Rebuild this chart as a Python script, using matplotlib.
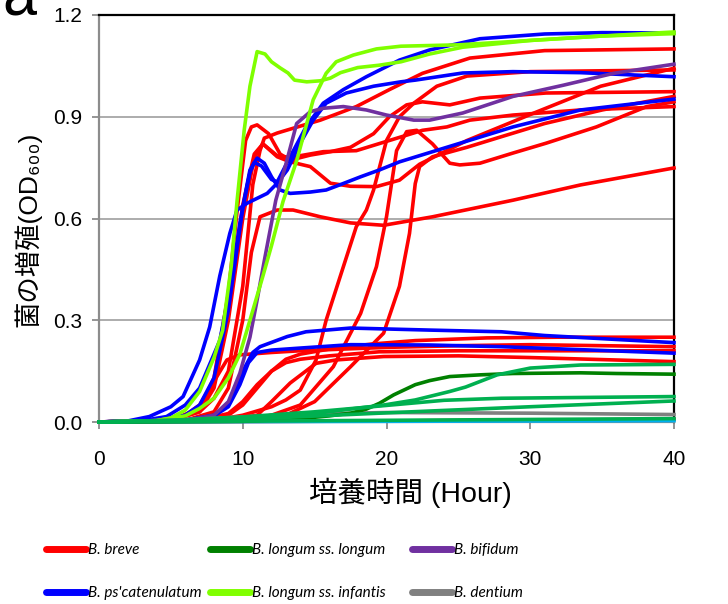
import matplotlib
matplotlib.use('Agg')
import matplotlib.pyplot as plt
from matplotlib.lines import Line2D

# growth curves, (hour, OD600)
infantis_fast = [(0, 0), (4, 0.004), (5, 0.012), (6, 0.035), (7, 0.09), (8, 0.19), (8.6, 0.27), (9.2, 0.46),
                 (9.6, 0.65), (10.1, 0.86), (10.5, 0.99), (11, 1.092), (11.55, 1.085), (12, 1.062), (12.6, 1.044),
                 (13.15, 1.029), (13.6, 1.008), (14.45, 1.003), (15.4, 1.006), (16.1, 1.014), (16.8, 1.03),
                 (18, 1.045), (19.5, 1.052), (21, 1.062), (23, 1.085), (25.3, 1.105), (30, 1.125), (35, 1.138),
                 (40, 1.145)]
infantis_slow = [(0, 0), (4, 0.004), (6, 0.018), (7, 0.04), (8, 0.07), (9, 0.13), (9.8, 0.2), (10.5, 0.3),
                 (11.4, 0.43), (12, 0.52), (12.8, 0.65), (13.75, 0.77), (14.9, 0.95), (15.8, 1.028), (16.5, 1.062),
                 (17.7, 1.082), (19.3, 1.10), (21, 1.108), (25, 1.112), (30, 1.125), (35, 1.138), (40, 1.15)]

pscat_a = [(0, 0), (2, 0.003), (3.5, 0.016), (5, 0.045), (5.85, 0.075), (7, 0.183), (7.7, 0.28), (8.4, 0.43),
           (9.1, 0.556), (9.6, 0.625), (10.3, 0.645), (11.7, 0.674), (12.4, 0.704), (13.1, 0.743), (14, 0.822),
           (14.9, 0.89), (15.8, 0.94), (17.2, 0.97), (19.1, 0.99), (21, 1.003), (22, 1.008), (25.3, 1.029),
           (28.8, 1.033), (33.5, 1.03), (40, 1.018)]
pscat_b = [(0, 0), (3, 0.004), (4.7, 0.016), (6, 0.05), (7, 0.1), (8.4, 0.24), (9.1, 0.39), (9.8, 0.586),
           (10.3, 0.7), (10.5, 0.743), (11, 0.778), (11.5, 0.763), (12, 0.723), (12.6, 0.684), (13.3, 0.674),
           (14.7, 0.678), (15.8, 0.684), (16.8, 0.70), (18.2, 0.723), (19.5, 0.743), (20.9, 0.767), (24.2, 0.81),
           (28.8, 0.87), (33.5, 0.92), (40, 0.952)]
pscat_c = [(0, 0), (4, 0.005), (6, 0.02), (7, 0.05), (8, 0.13), (9, 0.33), (9.5, 0.48), (10, 0.63), (10.5, 0.735),
           (10.8, 0.765), (11.3, 0.755), (12, 0.715), (12.4, 0.708), (13.3, 0.782), (14.4, 0.87), (15.6, 0.94),
           (17, 0.98), (18.6, 1.018), (20.9, 1.067), (23, 1.097), (26.5, 1.13), (31, 1.144), (35, 1.148),
           (40, 1.147)]
pscat_low1 = [(0, 0), (6, 0.005), (8, 0.02), (9, 0.05), (9.5, 0.09), (10, 0.15), (10.7, 0.205), (11.2, 0.222),
              (13.1, 0.252), (14.4, 0.266), (17.5, 0.277), (23, 0.271), (28, 0.266), (31, 0.255), (40, 0.234)]
pscat_low2 = [(0, 0), (6, 0.005), (8, 0.018), (9, 0.045), (9.8, 0.11), (10.4, 0.175), (11, 0.205), (12, 0.212),
              (14, 0.218), (17.5, 0.228), (23, 0.227), (28, 0.222), (40, 0.203)]

bifidum = [(0, 0), (6, 0.005), (8, 0.02), (9, 0.06), (9.8, 0.144), (10.5, 0.25), (11, 0.36), (11.55, 0.487),
           (12.3, 0.654), (13, 0.76), (13.75, 0.88), (14.7, 0.915), (15.6, 0.925), (17, 0.93), (18.6, 0.92),
           (20, 0.905), (21.9, 0.89), (23, 0.89), (25.3, 0.911), (28.8, 0.96), (32.3, 0.993), (35.8, 1.028),
           (40, 1.055)]

breve_top = [(0, 0), (5, 0.005), (7, 0.03), (8, 0.07), (9, 0.15), (10, 0.4), (10.7, 0.7), (11.2, 0.8),
             (11.5, 0.837), (12.4, 0.852), (13.5, 0.866), (15.4, 0.89), (17.9, 0.93), (20.2, 0.98), (22.5, 1.028),
             (25.8, 1.073), (31, 1.095), (40, 1.10)]
breve_peak = [(0, 0), (5, 0.005), (7, 0.04), (8, 0.13), (9, 0.38), (9.6, 0.62), (10.2, 0.83), (10.6, 0.87),
              (11, 0.876), (11.8, 0.85), (12.6, 0.79), (13.3, 0.772), (14.7, 0.787), (16.1, 0.797), (17.5, 0.81),
              (19.1, 0.85), (20.2, 0.90), (21.4, 0.935), (22.5, 0.944), (24.4, 0.935), (26.5, 0.955),
              (31.1, 0.97), (40, 0.974)]
breve_mid = [(0, 0), (5, 0.005), (7, 0.03), (8, 0.1), (9, 0.3), (10, 0.6), (10.8, 0.78), (11.4, 0.82),
             (12.4, 0.785), (13.3, 0.78), (15.6, 0.797), (17.9, 0.80), (20.2, 0.83), (22.5, 0.86), (24.2, 0.87),
             (25.8, 0.89), (28.8, 0.905), (33.5, 0.92), (40, 0.93)]
breve_dip = [(0, 0), (5, 0.005), (7, 0.035), (8, 0.11), (9, 0.33), (10, 0.64), (10.8, 0.79), (11.4, 0.82),
             (12.4, 0.782), (13.3, 0.767), (14.7, 0.753), (16.1, 0.704), (17.5, 0.695), (19.3, 0.694),
             (20.9, 0.713), (22.3, 0.76), (25.6, 0.83), (27.9, 0.87), (30.2, 0.91), (34.9, 0.99), (40, 1.043)]
breve_late1 = [(0, 0), (8, 0.005), (10, 0.02), (12, 0.045), (13, 0.065), (14, 0.094), (15.1, 0.183), (15.8, 0.30),
               (17, 0.458), (17.9, 0.576), (18.6, 0.625), (19.1, 0.684), (20, 0.83), (20.9, 0.9), (21.9, 0.94),
               (23.5, 0.99), (25.6, 1.02), (30, 1.033), (40, 1.038)]
breve_late2 = [(0, 0), (10, 0.005), (12, 0.02), (14, 0.05), (16.3, 0.163), (18.2, 0.32), (19.3, 0.458),
               (20, 0.605), (20.7, 0.80), (21.4, 0.856), (22.1, 0.86), (23.2, 0.82), (24.4, 0.763), (25.1, 0.758),
               (26.5, 0.763), (28.8, 0.793), (31.1, 0.822), (34.6, 0.87), (38.1, 0.93), (40, 0.944)]
breve_late3 = [(0, 0), (10, 0.005), (13, 0.02), (15, 0.06), (17.5, 0.163), (19.8, 0.262), (20.9, 0.40),
               (21.6, 0.556), (22, 0.703), (22.3, 0.753), (23.2, 0.782), (25.6, 0.81), (27.9, 0.84), (31, 0.88),
               (35, 0.92), (40, 0.96)]
breve_low = [(0, 0), (6, 0.005), (8, 0.03), (9, 0.1), (10, 0.3), (10.6, 0.5), (11.2, 0.605), (12.4, 0.625),
             (13.5, 0.625), (15.4, 0.605), (17.5, 0.587), (19.8, 0.58), (23.2, 0.605), (28.8, 0.654),
             (33.5, 0.699), (40, 0.749)]
breve_p1 = [(0, 0), (5, 0.008), (6, 0.02), (7, 0.05), (8, 0.12), (8.9, 0.183), (9.8, 0.198), (12, 0.205),
            (14, 0.21), (17, 0.215), (20, 0.22), (25, 0.225), (30, 0.228), (35, 0.225), (40, 0.222)]
breve_p2 = [(0, 0), (7, 0.005), (9, 0.025), (10, 0.06), (11, 0.11), (12, 0.15), (13, 0.175), (14, 0.185),
            (16, 0.195), (19.5, 0.207), (25, 0.21), (30, 0.21), (40, 0.21)]
breve_p3 = [(0, 0), (9, 0.005), (11, 0.02), (12, 0.06), (13.3, 0.115), (15.1, 0.173), (16.5, 0.183),
            (19.8, 0.193), (25, 0.195), (30, 0.19), (40, 0.178)]
breve_p4 = [(0, 0), (8, 0.005), (9, 0.02), (10, 0.05), (11, 0.1), (12, 0.15), (13, 0.185), (14, 0.2), (16, 0.215),
            (19, 0.23), (22, 0.24), (27, 0.248), (32, 0.25), (40, 0.25)]
breve_flat = [(0, 0), (20, 0.003), (40, 0.008)]

longum = [(0, 0), (10, 0.002), (14, 0.01), (16, 0.018), (17.5, 0.026), (18.6, 0.038), (19.5, 0.055), (20.5, 0.08),
          (22, 0.11), (23, 0.122), (24.4, 0.134), (26.5, 0.139), (28.8, 0.143), (33.5, 0.145), (36, 0.143),
          (40, 0.141)]
other_a = [(0, 0), (5, 0.004), (10, 0.012), (14, 0.02), (19.8, 0.05), (22, 0.065), (24.4, 0.09), (25.5, 0.103),
           (27.7, 0.139), (30, 0.159), (33.5, 0.168), (40, 0.17)]
other_b = [(0, 0), (5, 0.005), (10, 0.015), (15, 0.03), (19.5, 0.047), (24, 0.064), (28, 0.07), (40, 0.075)]
other_c = [(0, 0), (10, 0.008), (19.5, 0.026), (30, 0.045), (40, 0.062)]
other_d = [(0, 0), (20, 0.005), (40, 0.01)]
other_cyan = [(0, 0), (40, 0.004)]
dentium = [(0, 0), (5, 0.005), (10, 0.015), (15, 0.024), (20, 0.028), (30, 0.026), (40, 0.022)]

# legend columns, top row first
legend_cols = [
    [('B. breve', '#FF0000'), ("B. ps'catenulatum", '#0000FF')],
    [('B. longum ss. longum', '#008000'), ('B. longum ss. infantis', '#80FF00')],
    [('B. bifidum', '#7030A0'), ('B. dentium', '#808080')],
]
legend_x = [46, 210, 412]

plt.rcParams['font.family'] = ['Liberation Sans', 'Noto Sans CJK JP', 'DejaVu Sans']

fig = plt.figure(figsize=(7.28, 6.04), dpi=100)
ax = fig.add_axes([99 / 728, 1 - 422 / 604, 575 / 728, 407 / 604])


def draw(curves, color):
    for c in curves:
        ax.plot([p[0] for p in c], [p[1] for p in c], color=color, lw=2.6,
                solid_joinstyle='round', clip_on=False, zorder=3)


draw([breve_p1, breve_p2, breve_p3, breve_p4, breve_flat, breve_low, breve_late1, breve_late2, breve_late3,
      breve_dip, breve_mid, breve_peak, breve_top], '#FF0000')
draw([pscat_low1, pscat_low2, pscat_a, pscat_b, pscat_c], '#0000FF')
draw([bifidum], '#7030A0')
draw([infantis_fast, infantis_slow], '#7FFF00')
draw([dentium], '#808080')
draw([other_cyan], '#00B0F0')
draw([longum], '#008000')
draw([other_a, other_b, other_c, other_d], '#00B050')

ax.set_xlim(0, 40)
ax.set_ylim(0, 1.2)
ax.set_xticks([0, 10, 20, 30, 40])
ax.set_yticks([0, 0.3, 0.6, 0.9, 1.2])
ax.set_yticklabels(['0.0', '0.3', '0.6', '0.9', '1.2'])
ax.tick_params(labelsize=15, length=5, width=1.3, color='#8C8C8C')
ax.tick_params(axis='x', pad=15)
ax.tick_params(axis='y', pad=7)
ax.grid(axis='y', color='#A6A6A6', lw=1.3)
ax.set_axisbelow(True)
for s in ['left', 'bottom']:
    ax.spines[s].set_color('#8C8C8C')
    ax.spines[s].set_linewidth(1.6)
for s in ['top', 'right']:
    ax.spines[s].set_color('black')
    ax.spines[s].set_linewidth(1.6)

fig.text(410 / 728, 1 - 493 / 604, '培養時間 (Hour)', ha='center', va='center', fontsize=20.5)
fig.text(28 / 728, 1 - 229 / 604, '菌の増殖(OD₆₀₀)', ha='center', va='center', rotation=90, fontsize=19)
fig.text(2 / 728, 1 - 15 / 604, 'a', ha='left', va='baseline', fontsize=44)

for col, x in zip(legend_cols, legend_x):
    handles = [Line2D([], [], color=c, lw=5, solid_capstyle='round') for _, c in col]
    leg = fig.legend(handles, [lab for lab, _ in col], loc='upper left',
                     bbox_to_anchor=(x / 728, 1 - 543 / 604), frameon=False,
                     prop={'family': 'Lato', 'style': 'italic', 'size': 11},
                     handlelength=2.6, handletextpad=0.12, labelspacing=1.9,
                     borderpad=0, borderaxespad=0)

fig.savefig('out.png', dpi=100)
